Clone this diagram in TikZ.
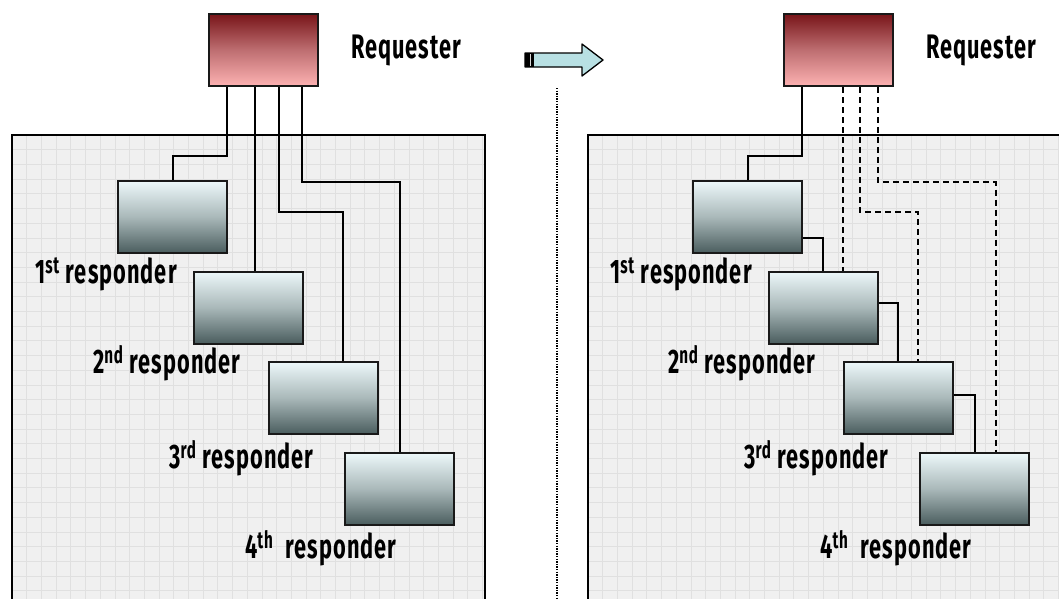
\documentclass[tikz,border=0pt]{standalone}
\usepackage{fontspec}
\newfontfamily\lblfont[FakeStretch=0.64,LetterSpace=3]{Fira Sans}
\usetikzlibrary{calc}
\definecolor{panelbg}{HTML}{F0F0F0}
\definecolor{gridln}{HTML}{E0E0E0}
\definecolor{rqtop}{HTML}{781519}
\definecolor{rqmid}{HTML}{BE6E71}
\definecolor{rqbot}{HTML}{FDB2B2}
\definecolor{rstop}{HTML}{EDF8FA}
\definecolor{rsmid}{HTML}{A9B8B9}
\definecolor{rsbot}{HTML}{4A5D5E}
\definecolor{arrowfill}{HTML}{B8E0E3}
\begin{document}
\begin{tikzpicture}[x=1pt,y=-1pt,
  panel/.style={fill=panelbg},
  panelgrid/.style={draw=gridln, line width=0.7pt},
  border/.style={draw=black, line width=2.2pt},
  reqbox/.style={draw=black!90, line width=2pt, minimum width=109pt, minimum height=72pt,
    inner sep=0pt, top color=rqtop, bottom color=rqbot, middle color=rqmid},
  respbox/.style={draw=black!90, line width=2pt, minimum width=109pt, minimum height=72pt,
    inner sep=0pt, top color=rstop, bottom color=rsbot, middle color=rsmid},
  lbl/.style={font=\lblfont\bfseries\fontsize{34}{38}\selectfont, inner sep=0pt, anchor=base west},
  wire/.style={line width=2pt},
  dwire/.style={wire, dash pattern=on 6pt off 4pt}]
\useasboundingbox (0,0) rectangle (1059,598);
\fill[white] (0,0) rectangle (1059,598);

% grid panels
\begin{scope}[shift={(12,135)}]
  \fill[panel] (0,0) rectangle (473,480);
  \draw[panelgrid, step=14.7pt] (0,0) grid (473,480);
  \draw[border] (0,480) -- (0,0) -- (473,0) -- (473,480);
\end{scope}
\begin{scope}[shift={(588,135)}]
  \fill[panel] (0,0) rectangle (480,480);
  \draw[panelgrid, step=14.7pt] (0,0) grid (480,480);
  \draw[border] (0,480) -- (0,0) -- (480,0);
\end{scope}

% separator and transition arrow
\draw[line width=1.3pt, dash pattern=on 1.3pt off 1.3pt] (557,88) -- (557,598);
\filldraw[fill=arrowfill, draw=black, line width=1.3pt, line join=round]
  (525,53) -- (582,53) -- (582,44) -- (603,60) -- (582,76) -- (582,67) -- (525,67) -- cycle;
\fill[black] (525,53) rectangle (534,67);
\draw[white!70!gray, line width=0.9pt] (530.5,54) -- (530.5,66);

% left: requester talks to every responder
\node[reqbox] (rqL) at (263.5,50) {};
\node[lbl] (tqL) at (351,58) {Requester};
\node[respbox] (L1) at (172.5,217) {};
\node[respbox] (L2) at (248,307.5) {};
\node[respbox] (L3) at (323,398) {};
\node[respbox] (L4) at (399.5,489) {};
\node[lbl] (tL1) at (35,283) {1\textsuperscript{st} responder};
\node[lbl] (tL2) at (93,373) {2\textsuperscript{nd} responder};
\node[lbl] (tL3) at (169,468) {3\textsuperscript{rd} responder};
\node[lbl] (tL4) at (245,558) {4\textsuperscript{th}\ \ responder};

\coordinate (qL1) at ([xshift=19pt]rqL.south west);
\coordinate (qL2) at ([xshift=47pt]rqL.south west);
\coordinate (qL3) at ([xshift=71pt]rqL.south west);
\coordinate (qL4) at ([xshift=94pt]rqL.south west);
\draw[wire] (qL1) -- ++(0,69) -| (L1.north);
\draw[wire] (qL2) -- (qL2 |- L2.north);
\draw[wire] (qL3) -- ++(0,125) -| ([xshift=75pt]L3.north west);
\draw[wire] (qL4) -- ++(0,95) -| (L4.north);

% right: responders chained, requester links shown dashed
\node[reqbox] (rqR) at (838.5,50) {};
\node[lbl] (tqR) at (926,58) {Requester};
\node[respbox] (R1) at (747.5,217) {};
\node[respbox] (R2) at (823,307.5) {};
\node[respbox] (R3) at (898,398) {};
\node[respbox] (R4) at (974.5,489) {};
\node[lbl] (tR1) at (610,283) {1\textsuperscript{st} responder};
\node[lbl] (tR2) at (668,373) {2\textsuperscript{nd} responder};
\node[lbl] (tR3) at (744,468) {3\textsuperscript{rd} responder};
\node[lbl] (tR4) at (820,558) {4\textsuperscript{th}\ \ responder};

\coordinate (qR1) at ([xshift=19pt]rqR.south west);
\coordinate (qR2) at ([xshift=60pt]rqR.south west);
\coordinate (qR3) at ([xshift=77pt]rqR.south west);
\coordinate (qR4) at ([xshift=95pt]rqR.south west);
\draw[wire] (qR1) -- ++(0,69) -| (R1.north);
\draw[wire] ([yshift=-21pt]R1.east) -| (R2.north);
\draw[wire] ([yshift=5pt]R2.east) -| (R3.north);
\draw[wire] ([yshift=3pt]R3.east) -| (R4.north);
\draw[dwire] (qR2) -- (qR2 |- R2.north);
\draw[dwire] (qR3) -- ++(0,125) -| ([xshift=20pt]R3.north);
\draw[dwire] (qR4) -- ++(0,95) -| ([xshift=21pt]R4.north);
\end{tikzpicture}
\end{document}
